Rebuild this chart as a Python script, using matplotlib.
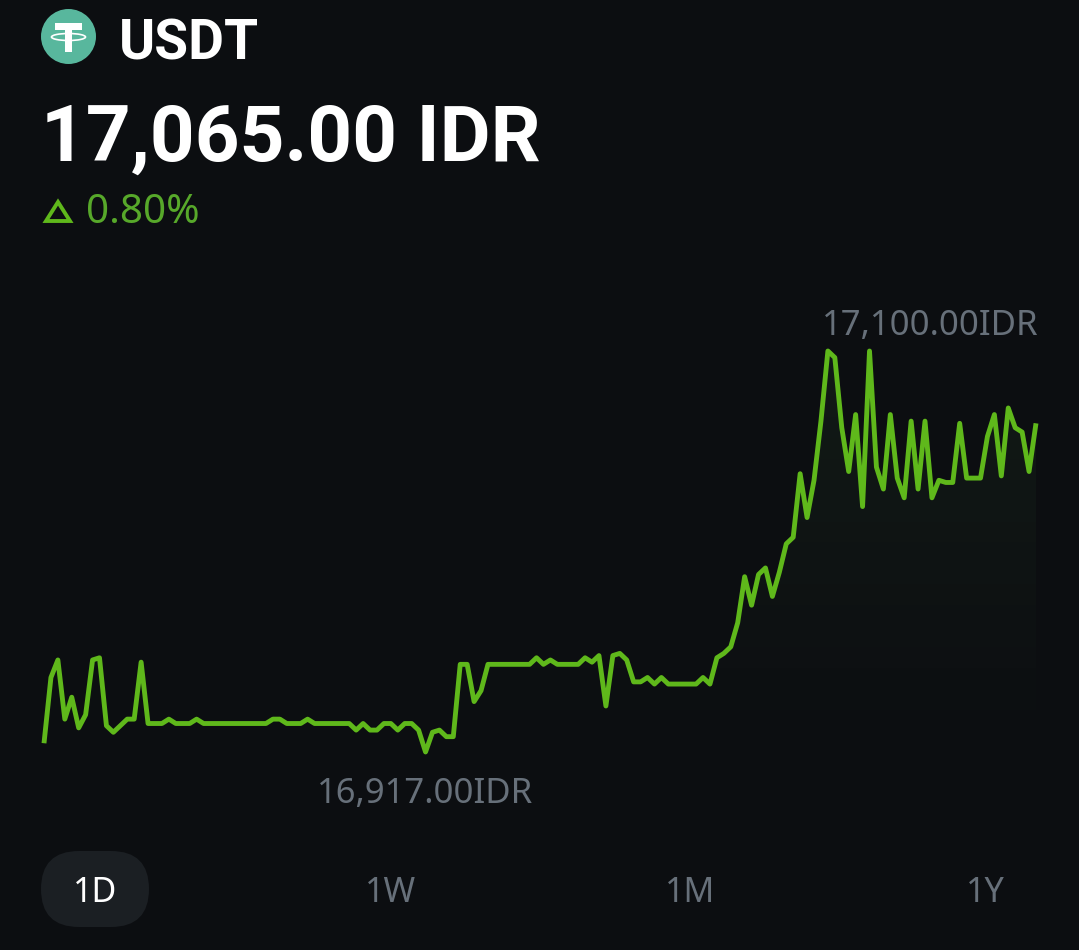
import numpy as np
import matplotlib
matplotlib.use("Agg")
from matplotlib import pyplot as plt
from matplotlib.patches import Circle, Ellipse, FancyBboxPatch, Polygon, Rectangle

plt.rcParams["font.family"] = ["Noto Sans", "DejaVu Sans"]

W, H = 1079, 950
BG = "#0c0e11"
GREEN = "#5fb81b"
GREY = "#67707a"
HEAD_FONT = ["Roboto", "Liberation Sans", "DejaVu Sans"]

symbol = "USDT"
price_label = "17,065.00 IDR"
change_label = "0.80%"
high_label = "17,100.00IDR"
low_label = "16,917.00IDR"
ranges = ["1D", "1W", "1M", "1Y"]

# prices, left to right
prices = [
    16921, 16951, 16959, 16932, 16942, 16928, 16934, 16959, 16960, 16929,
    16926, 16929, 16932, 16932, 16958, 16930, 16930, 16930, 16932, 16930,
    16930, 16930, 16932, 16930, 16930, 16930, 16930, 16930, 16930, 16930,
    16930, 16930, 16930, 16932, 16932, 16930, 16930, 16930, 16932, 16930,
    16930, 16930, 16930, 16930, 16930, 16927, 16930, 16927, 16927, 16930,
    16930, 16927, 16930, 16930, 16927, 16917, 16926, 16927, 16924, 16924,
    16957, 16957, 16940, 16945, 16957, 16957, 16957, 16957, 16957, 16957,
    16957, 16960, 16957, 16959, 16957, 16957, 16957, 16957, 16960, 16958,
    16961, 16938, 16961, 16962, 16959, 16949, 16949, 16951, 16948, 16951,
    16948, 16948, 16948, 16948, 16948, 16951, 16948, 16960, 16962, 16965,
    16976, 16997, 16984, 16998, 17001, 16988, 16999, 17012, 17015, 17044,
    17024, 17041, 17068, 17100, 17097, 17065, 17045, 17071, 17029, 17100,
    17047, 17037, 17071, 17042, 17033, 17068, 17037, 17068, 17033, 17041,
    17040, 17040, 17067, 17042, 17042, 17042, 17061, 17071, 17043, 17074,
    17065, 17063, 17045, 17067,
]
times = np.arange(len(prices))

fig = plt.figure(figsize=(W / 100, H / 100), dpi=100, facecolor=BG)

# overlay in pixel coordinates for the header and range buttons
ui = fig.add_axes([0, 0, 1, 1])
ui.set_xlim(0, W)
ui.set_ylim(H, 0)
ui.axis("off")

# chart axes: top edge at 17100, bottom edge at 16917
ax = fig.add_axes([44 / W, 1 - 752 / H, 992 / W, 401 / H])
ax.patch.set_alpha(0)
ax.set_xlim(times[0], times[-1])
ax.set_ylim(min(prices), max(prices))
ax.axis("off")

# faint green fade under the line
grad = np.zeros((256, 2, 4))
grad[..., 0] = 0.37
grad[..., 1] = 0.72
grad[..., 2] = 0.35
grad[..., 3] = np.linspace(0.075, 0.0, 256)[:, None]
im = ax.imshow(grad, extent=[times[0], times[-1], min(prices), max(prices)],
               origin="upper", aspect="auto", zorder=1)
poly = ax.fill_between(times, prices, min(prices), color="none")
im.set_clip_path(poly.get_paths()[0], transform=ax.transData)

ax.plot(times, prices, color=GREEN, linewidth=3.5, solid_joinstyle="round",
        solid_capstyle="butt", clip_on=False, zorder=2)

i_hi = int(np.argmax(prices))
i_lo = int(np.argmin(prices))
ax.annotate(high_label, (times[i_hi], prices[i_hi]), xytext=(-4.5, 11.5),
            textcoords="offset points", ha="left", va="baseline",
            color=GREY, fontsize=25, annotation_clip=False)
ax.annotate(low_label, (times[i_lo], prices[i_lo]), xytext=(0, -37),
            textcoords="offset points", ha="center", va="baseline",
            color=GREY, fontsize=25, annotation_clip=False)

# Tether logo
ui.add_patch(Circle((68.5, 36.5), 27.5, color="#58b79d", lw=0))
ui.add_patch(Rectangle((55, 23), 27, 6.5, color="white", lw=0))
ui.add_patch(Rectangle((65, 23), 7, 29, color="white", lw=0))
ui.add_patch(Ellipse((68.5, 37), 34, 7, fill=False, ec="white", lw=1.2))

ui.text(119, 59, symbol, color="white", fontsize=39.7, fontweight="bold",
        family=HEAD_FONT, va="baseline", ha="left")
ui.text(41, 161, price_label, color="white", fontsize=56.3, fontweight="bold",
        family=HEAD_FONT, va="baseline", ha="left")

ui.add_patch(Polygon([[58, 202], [70, 221], [46, 221]], closed=True, fill=False,
                     ec=GREEN, lw=2.8, joinstyle="miter"))
ui.text(86, 223, change_label, color="#57a82a", fontsize=29, va="baseline", ha="left")

# range buttons
ui.add_patch(FancyBboxPatch((41 + 38, 851 + 38), 108 - 76, 0, boxstyle="round,pad=38",
                            fc="#1b1f23", ec="none"))
for name, x in zip(ranges, [95, 391, 690, 985]):
    ui.text(x, 902, name, color="white" if name == "1D" else GREY, fontsize=24.5,
            va="baseline", ha="center")

fig.savefig("out.png", dpi=100, facecolor=BG)
